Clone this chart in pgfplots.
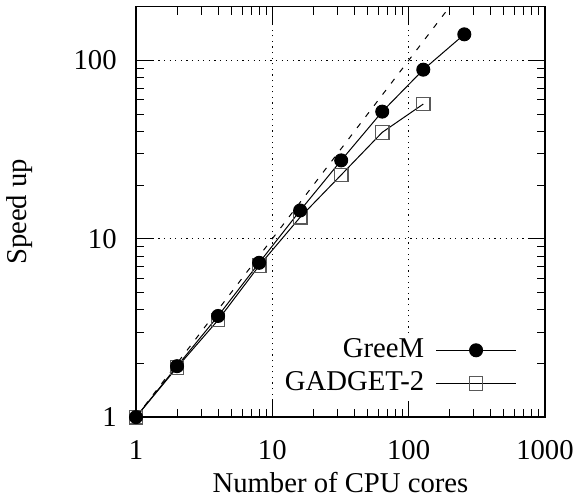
\documentclass[border=0pt]{standalone}
\usepackage{pgfplots}
\pgfplotsset{compat=1.18}
\usepackage{fontspec}
\setmainfont{Liberation Serif}

\begin{document}
\fontsize{14.4}{17.3}\selectfont
\begin{tikzpicture}
\begin{loglogaxis}[
    name=ax,
    scale only axis,
    width=204.5bp, height=205.2bp,
    xmin=1, xmax=1000, ymin=1, ymax=200,
    xtick={1,10,100,1000}, xticklabels={1,10,100,1000},
    ytick={1,10,100}, yticklabels={1,10,100},
    minor xtick={2,3,4,5,6,7,8,9,20,30,40,50,60,70,80,90,200,300,400,500,600,700,800,900},
    minor ytick={2,3,4,5,6,7,8,9,20,30,40,50,60,70,80,90},
    tick align=inside,
    major tick length=8.5bp, minor tick length=4bp,
    every tick/.style={black, line width=0.5bp},
    axis line style={line width=0.8bp},
    grid=major,
    major grid style={black, line width=0.6bp, dash pattern=on 0.6bp off 2.2bp},
    xticklabel style={yshift=-6.7bp},
    yticklabel style={xshift=-4.7bp},
    xlabel={Number of CPU cores},
    ylabel={Speed up},
    every axis x label/.style={at={(axis description cs:0.5,-0.1828)}, anchor=base},
    every axis y label/.style={at={(axis description cs:-0.2675,0.5)}, rotate=90, anchor=base},
    clip=false,
    legend plot pos=right,
    legend cell align=right,
    reverse legend,
    legend image code/.code={\draw[mark repeat=2, mark phase=2, #1]
        plot coordinates {(0bp,0bp) (20bp,0bp) (40bp,0bp)};},
    legend style={draw=none, fill=white, at={(axis description cs:0.9413,0.0377)},
        anchor=south east, inner sep=2bp, row sep=3bp, column sep=4.7bp,
        nodes={inner sep=1bp}},
]
% ideal scaling
\addplot[black, line width=0.5bp, dash pattern=on 2.8bp off 4.2bp, forget plot]
    coordinates {(1,1) (200,200)};

\addplot[black, line width=0.5bp, mark=square, mark size=3.4bp,
         mark options={solid, draw=black!65, line width=0.6bp}]
    coordinates {
    (1,1) (2,1.9) (4,3.5) (8,7.06) (16,13.2) (32,22.8) (64,39.5) (128,56.9)
    };
\addlegendentry{GADGET-2}

\addplot[black, line width=0.5bp, mark=*, mark size=3.25bp,
         mark options={solid, fill=black}]
    coordinates {
    (1,1) (2,1.93) (4,3.69) (8,7.33) (16,14.4) (32,27.5) (64,51.6) (128,88.7) (256,140)
    };
\addlegendentry{GreeM}
\end{loglogaxis}
\pgfresetboundingbox
\path ([xshift=-68bp,yshift=-42bp]ax.south west) rectangle ([xshift=17bp,yshift=3.35bp]ax.north east);
\end{tikzpicture}
\end{document}
